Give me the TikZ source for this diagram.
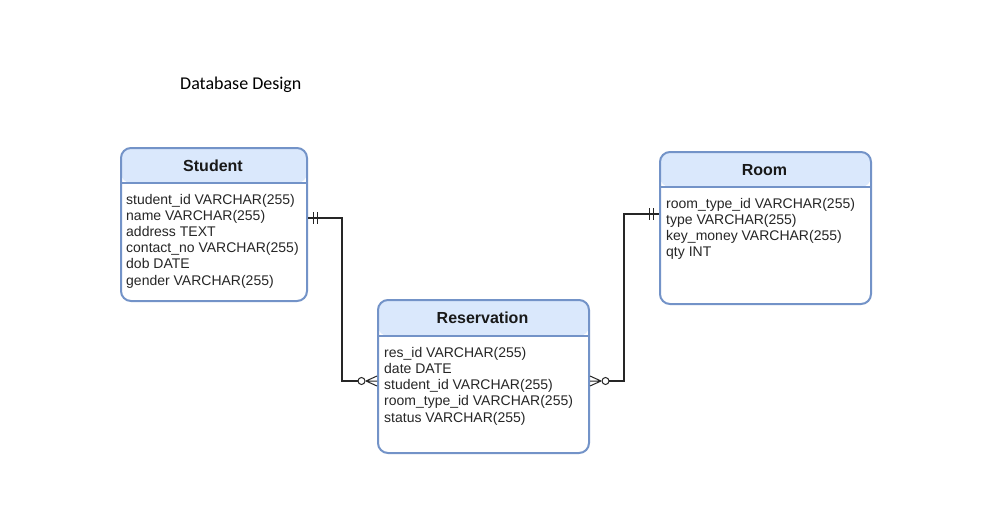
\documentclass[tikz,border=0pt]{standalone}
\usepackage{fontspec}
\setmainfont{Liberation Sans}
\newfontfamily\titlefont{Carlito}
\definecolor{tblborder}{HTML}{7393C8}
\definecolor{tblhead}{HTML}{DAE8FC}
\begin{document}
\begin{tikzpicture}[x=1pt,y=-1pt,
  tbl/.style n args={1}{draw=tblborder, line width=2pt, rounded corners=10pt, anchor=north west, inner sep=0pt,
     path picture={\fill[tblhead] (path picture bounding box.north west) rectangle ([yshift=-#1pt]path picture bounding box.north east);
                   \draw[tblborder, line width=2pt] ([yshift=-#1pt]path picture bounding box.north west) -- ([yshift=-#1pt]path picture bounding box.north east);}},
  hdr/.style={font=\fontsize{16}{19}\selectfont\bfseries, inner sep=0pt, text=black!90},
  field/.style={font=\fontsize{14}{16}\selectfont, inner sep=0pt, anchor=base west, text=black!85},
  conn/.style={line width=1.2pt, black!85},
  mk/.style={line width=1pt, black!85}]
\useasboundingbox (0,0) rectangle (987,532);
\fill[white] (0,0) rectangle (987,532);

% title
\node[font=\titlefont\fontsize{18}{21}\selectfont, anchor=west, inner sep=0pt] (title) at (180,85) {Database Design};

% Student
\node[tbl=35, minimum width=186pt, minimum height=153pt] (student) at (120,147) {};
\node[hdr] (studenth) at (213,166) {Student};
\foreach \t [count=\i] in {student\_id VARCHAR(255), name VARCHAR(255), address TEXT, contact\_no VARCHAR(255), dob DATE, gender VARCHAR(255)}
  \node[field] (stu-\i) at (126,{204+16.2*(\i-1)}) {\t};

% Room
\node[tbl=35, minimum width=211pt, minimum height=152pt] (room) at (659,151) {};
\node[hdr] (roomh) at (764.5,170) {Room};
\foreach \t [count=\i] in {room\_type\_id VARCHAR(255), type VARCHAR(255), key\_money VARCHAR(255), qty INT}
  \node[field] (room-\i) at (666,{208+16.3*(\i-1)}) {\t};

% Reservation
\node[tbl=36, minimum width=211pt, minimum height=153pt] (res) at (377,299) {};
\node[hdr] (resh) at (482.5,318) {Reservation};
\foreach \t [count=\i] in {res\_id VARCHAR(255), date DATE, student\_id VARCHAR(255), room\_type\_id VARCHAR(255), status VARCHAR(255)}
  \node[field] (res-\i) at (384,{357+16.25*(\i-1)}) {\t};

% connector coordinates
\coordinate (sa) at (student.east |- 0,218);
\coordinate (ra) at (res.west |- 0,381);
\coordinate (rb) at (res.east |- 0,381);
\coordinate (ma) at (room.west |- 0,214);

% Student -> Reservation
\draw[conn] (sa) -- (342,218) |- ([xshift=-19pt]ra);
\draw[mk] ([xshift=5pt]sa) ++(0,-6) -- ++(0,12);
\draw[mk] ([xshift=9pt]sa) ++(0,-6) -- ++(0,12);
\draw[mk, fill=white] ([xshift=-15.5pt]ra) circle (3.5pt);
\draw[mk] ([xshift=-11pt]ra) -- (ra) ([xshift=-11pt]ra) -- ([yshift=-5pt]ra) ([xshift=-11pt]ra) -- ([yshift=5pt]ra);

% Room -> Reservation
\draw[conn] (ma) -- (624,214) |- ([xshift=19pt]rb);
\draw[mk] ([xshift=-6pt]ma) ++(0,-6) -- ++(0,12);
\draw[mk] ([xshift=-10pt]ma) ++(0,-6) -- ++(0,12);
\draw[mk, fill=white] ([xshift=15.5pt]rb) circle (3.5pt);
\draw[mk] ([xshift=11pt]rb) -- (rb) ([xshift=11pt]rb) -- ([yshift=-5pt]rb) ([xshift=11pt]rb) -- ([yshift=5pt]rb);
\end{tikzpicture}
\end{document}
